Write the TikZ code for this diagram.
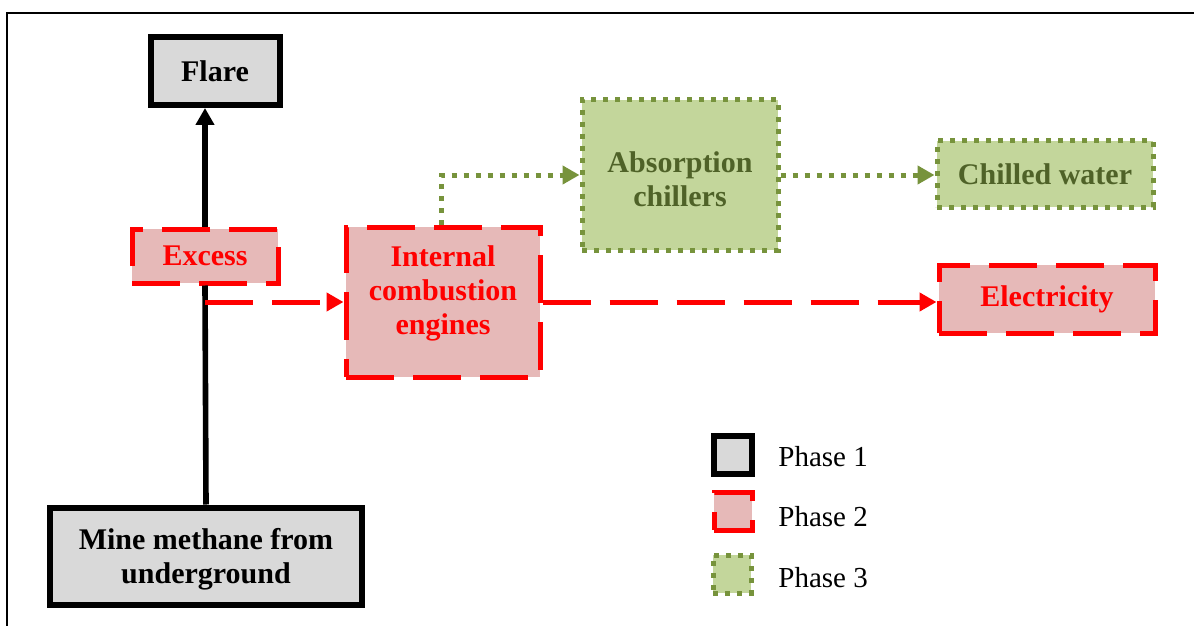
\documentclass[tikz,border=0pt]{standalone}
\usepackage{fontspec}
\setmainfont{Liberation Serif}
\usetikzlibrary{arrows.meta, positioning}

\definecolor{boxgrey}{HTML}{D9D9D9}
\definecolor{boxpink}{HTML}{E6B9B8}
\definecolor{boxolive}{HTML}{C3D69B}
\definecolor{lineolive}{HTML}{77933C}
\definecolor{textolive}{HTML}{4F6228}

\begin{document}
\begin{tikzpicture}[x=0.5pt, y=-0.5pt,
  box/.style={rectangle, inner sep=0pt, align=center,
    font=\fontsize{15}{17}\selectfont\bfseries},
  phaseone/.style={box, draw=black, line width=3pt, fill=boxgrey},
  phasetwo/.style={box, draw=red, line width=2.5pt,
    dash pattern=on 24pt off 9.5pt, fill=boxpink, text=red},
  phasethree/.style={box, draw=lineolive, line width=2.5pt,
    dash pattern=on 2.5pt off 3.5pt, fill=boxolive, text=textolive},
  keytext/.style={inner sep=0pt, anchor=west, font=\fontsize{14.5}{17}\selectfont},
  tip/.style={-{Triangle[length=8.5pt, width=9pt]}},
  blackflow/.style={tip, draw=black, line width=2.8pt},
  redflow/.style={tip, draw=red, line width=2.5pt, dash pattern=on 24pt off 9.5pt},
  greenflow/.style={tip, draw=lineolive, line width=2.5pt, dash pattern=on 2.5pt off 3.5pt}]

  \useasboundingbox (0,0) rectangle (1194,626);
  % frame
  \draw[line width=0.9pt] (7,626) -- (7,13) -- (1194,13);

  % phase 1
  \node[phaseone, minimum width=64.5pt, minimum height=34pt] (flare) at (215,71) {Flare};
  \node[phaseone, minimum width=156pt, minimum height=48.5pt, text height=30.9pt] (mine) at (206,556) {Mine methane from\\underground};

  % phase 2
  \node[phasetwo, minimum width=73pt, minimum height=27pt] (excess) at (205,256) {Excess};
  \node[phasetwo, minimum width=97pt, minimum height=75pt, text depth=12pt] (ice) at (443,302) {Internal\\combustion\\engines};
  \node[phasetwo, minimum width=108pt, minimum height=34pt] (elec) at (1047,299) {Electricity};

  % phase 3
  \node[phasethree, minimum width=98pt, minimum height=75pt, text height=32pt] (absorb) at (680,175) {Absorption\\chillers};
  \node[phasethree, minimum width=108pt, minimum height=33pt] (chilled) at (1045,174) {Chilled water};

  % flows
  \draw[line width=2.8pt] (mine.north) -- (excess.south);
  \draw[blackflow] (excess.north) -- (excess.north |- flare.south);
  \draw[redflow] (excess.south |- ice.west) -- (ice.west);
  \draw[redflow] (ice.east) -- (ice.east -| elec.west);
  \draw[greenflow] ([xshift=-1pt]ice.north) |- (absorb.west);
  \draw[greenflow] (absorb.east) -- (absorb.east -| chilled.west);

  % key
  \node[phaseone, minimum size=19pt] (key1) at (733,455) {};
  \node[phasetwo, minimum size=19pt] (key2) at (733,511) {};
  \node[phasethree, minimum size=19pt] (key3) at (732,574) {};
  \node[keytext] (lab1) at (778,457) {Phase 1};
  \node[keytext] (lab2) at (778,517) {Phase 2};
  \node[keytext] (lab3) at (778,578) {Phase 3};
\end{tikzpicture}
\end{document}
